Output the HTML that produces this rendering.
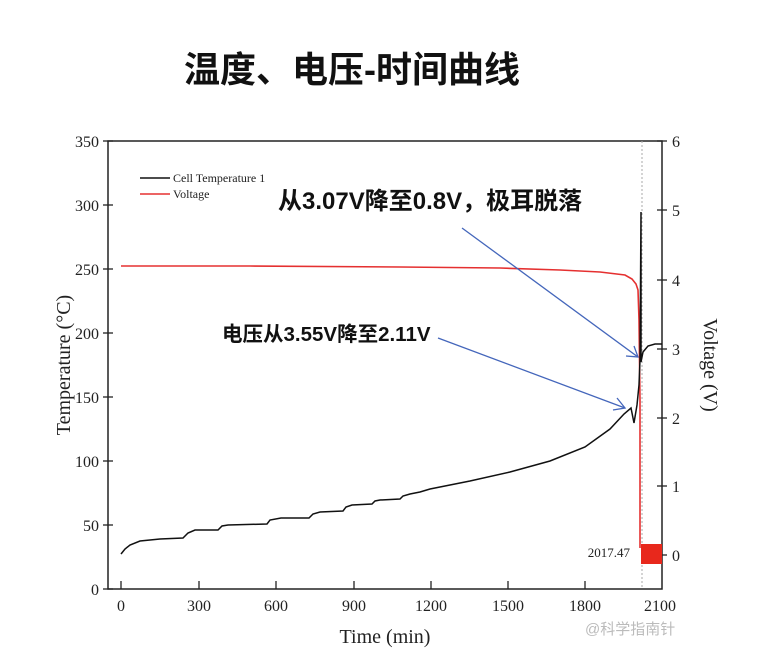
<!DOCTYPE html>
<html><head><meta charset="utf-8"><style>
body{margin:0;background:#fff;}
svg{display:block;}
.t{font-family:"Liberation Serif",serif;fill:#222;}
.c{font-family:"Liberation Sans","Noto Sans CJK SC",sans-serif;font-weight:bold;fill:#111;}
</style></head><body>
<svg width="774" height="654" viewBox="0 0 774 654" xmlns="http://www.w3.org/2000/svg">
<text x="352" y="82" text-anchor="middle" class="c" font-size="36">温度、电压-时间曲线</text>
<rect x="108" y="141" width="554" height="448" fill="none" stroke="#222" stroke-width="1.5"/>
<line x1="642" y1="141" x2="642" y2="589" stroke="#aaa" stroke-width="1" stroke-dasharray="2,2"/>
<g stroke="#222" stroke-width="1.3">
<line x1="103" y1="589" x2="113" y2="589"/><line x1="103" y1="525" x2="113" y2="525"/><line x1="103" y1="461" x2="113" y2="461"/><line x1="103" y1="397" x2="113" y2="397"/><line x1="103" y1="333" x2="113" y2="333"/><line x1="103" y1="269" x2="113" y2="269"/><line x1="103" y1="205" x2="113" y2="205"/><line x1="103" y1="141" x2="113" y2="141"/>
<line x1="657" y1="555" x2="667" y2="555"/><line x1="657" y1="486" x2="667" y2="486"/><line x1="657" y1="418" x2="667" y2="418"/><line x1="657" y1="349" x2="667" y2="349"/><line x1="657" y1="280" x2="667" y2="280"/><line x1="657" y1="210" x2="667" y2="210"/><line x1="657" y1="141" x2="667" y2="141"/>
<line x1="121" y1="589" x2="121" y2="581"/><line x1="199" y1="589" x2="199" y2="581"/><line x1="276" y1="589" x2="276" y2="581"/><line x1="354" y1="589" x2="354" y2="581"/><line x1="431" y1="589" x2="431" y2="581"/><line x1="508" y1="589" x2="508" y2="581"/><line x1="585" y1="589" x2="585" y2="581"/>
</g>
<g class="t" font-size="16" text-anchor="end">
<text x="99" y="595">0</text><text x="99" y="531">50</text><text x="99" y="467">100</text><text x="99" y="403">150</text><text x="99" y="339">200</text><text x="99" y="275">250</text><text x="99" y="211">300</text><text x="99" y="147">350</text>
</g>
<g class="t" font-size="16">
<text x="672" y="561">0</text><text x="672" y="492">1</text><text x="672" y="424">2</text><text x="672" y="355">3</text><text x="672" y="286">4</text><text x="672" y="216">5</text><text x="672" y="147">6</text>
</g>
<g class="t" font-size="16" text-anchor="middle">
<text x="121" y="611">0</text><text x="199" y="611">300</text><text x="276" y="611">600</text><text x="354" y="611">900</text><text x="431" y="611">1200</text><text x="508" y="611">1500</text><text x="585" y="611">1800</text><text x="660" y="611">2100</text>
</g>
<text x="385" y="643" text-anchor="middle" class="t" font-size="20">Time (min)</text>
<text transform="translate(70,365) rotate(-90)" text-anchor="middle" class="t" font-size="20">Temperature (°C)</text>
<text transform="translate(704,365) rotate(90)" text-anchor="middle" class="t" font-size="20">Voltage (V)</text>
<line x1="140" y1="178" x2="170" y2="178" stroke="#111" stroke-width="1.5"/>
<text x="173" y="182" class="t" font-size="12">Cell Temperature 1</text>
<line x1="140" y1="194" x2="170" y2="194" stroke="#e53030" stroke-width="1.5"/>
<text x="173" y="198" class="t" font-size="12">Voltage</text>
<text x="630" y="557" text-anchor="end" class="t" font-size="13">2017.47</text>
<polyline fill="none" stroke="#e53030" stroke-width="1.6" points="121,266 250,266 400,267 500,268 560,270 600,272 625,275 632,279 636,284 638,290 639,320 640,400 640,548"/>
<rect x="641" y="544" width="21" height="20" fill="#e8281c"/>
<polyline fill="none" stroke="#111" stroke-width="1.5" points="121,554 125,549 130,545 140,541 160,539 183,538 188,533 195,530 218,530 222,526 228,525 267,524 270,520 281,518 309,518 313,514 320,512 343,511 346,507 352,505 372,504 375,501 380,500 400,499 403,496 410,494 420,492 430,489 470,481 510,472 550,461 585,447 610,429 624,414 631,408 634,423 637,405 639,385 640,360 641,212 641,362 643,352 648,346 655,344 662,344"/>
<g stroke="#4466bb" stroke-width="1.3" fill="none">
<line x1="462" y1="228" x2="638" y2="357"/><polyline points="626,356 638,357 634,346"/>
<line x1="438" y1="338" x2="625" y2="408"/><polyline points="613,410 625,408 617,398"/>
</g>
<text x="278" y="209" class="c" font-size="24">从3.07V降至0.8V，极耳脱落</text>
<text x="222" y="341" class="c" font-size="20.5">电压从3.55V降至2.11V</text>
<text x="585" y="634" font-family="Liberation Sans,'Noto Sans CJK SC',sans-serif" font-size="15" fill="#bbb">@科学指南针</text>
</svg>
</body></html>
